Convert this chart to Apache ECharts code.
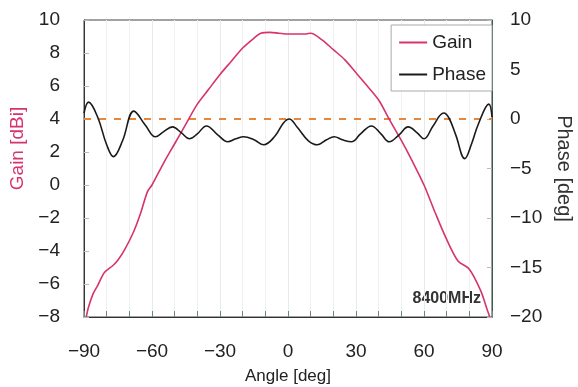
<!DOCTYPE html>
<html>
<head>
<meta charset="utf-8">
<script src="https://cdn.jsdelivr.net/npm/echarts@6/dist/echarts.min.js"></script>
<style>
  html, body { margin: 0; padding: 0; background: #fff; }
  #chart { width: 578px; height: 387px; }
</style>
</head>
<body>
<div id="chart"></div>
<script>
// gain pattern (left axis, dBi)
var gainAngle = [-89, -88, -86, -84, -81, -77, -75, -72, -68, -65, -62, -60, -55, -50, -45, -40, -35, -30, -25, -20, -15, -12, -8, -4, 0, 4, 8, 10, 15, 20, 25, 30, 35, 40, 45, 50, 55, 60, 65, 70, 75, 80, 85, 88, 89];
var gainValue = [-8, -7.4, -6.6, -6.1, -5.3, -4.85, -4.55, -3.9, -2.8, -1.7, -0.4, 0.0, 1.3, 2.5, 3.7, 4.9, 5.8, 6.7, 7.5, 8.3, 8.9, 9.2, 9.25, 9.2, 9.15, 9.15, 9.15, 9.2, 8.8, 8.2, 7.6, 6.8, 6.0, 5.15, 3.9, 2.7, 1.4, 0.0, -1.7, -3.3, -4.6, -5.1, -6.4, -7.6, -8];

// phase pattern (right axis, deg)
var phaseAngle = [-90, -88, -84, -80, -77, -73, -68, -63, -58.5, -55, -51, -47, -43.5, -40, -36, -31, -26.6, -23, -19.5, -15, -10.7, -6, -2, 0.5, 4, 9, 13, 17, 20.4, 24, 28, 32, 36.8, 41, 44.7, 49, 53, 57, 60, 64, 68.7, 71, 74, 78, 81, 84, 88.6, 90];
var phaseValue = [0.6, 1.7, 0.2, -2.6, -3.8, -2.2, 0.8, -0.6, -1.8, -1.3, -0.8, -1.4, -2.0, -1.5, -0.7, -1.6, -2.3, -2.0, -1.8, -2.1, -2.6, -1.8, -0.4, 0, -0.8, -2.2, -2.6, -2.1, -1.8, -2.1, -2.3, -1.5, -0.7, -1.5, -2.3, -1.6, -0.8, -1.4, -2.0, -0.7, 0.6, 0.1, -1.6, -4.0, -2.5, -0.5, 1.5, 0.2];

// dashed reference line
var refAngle = [-90, 90];
var refValue = [0, 0];

function pairs(xs, ys) {
  return xs.map(function (x, i) { return [x, ys[i]]; });
}
function minus(v) {
  return String(v).replace('-', '\u2212');
}

var chart = echarts.init(document.getElementById('chart'));
var font = 'Liberation Sans, Arial, sans-serif';

var option = {
  backgroundColor: '#fff',
  animation: false,
  textStyle: { fontFamily: font },
  grid: {
    left: 84, right: 86, top: 20, bottom: 70,
    outerBoundsMode: 'none',
    show: true, borderColor: '#444', borderWidth: 1
  },
  legend: {
    data: ['Gain', 'Phase'],
    orient: 'vertical',
    right: 86, top: 25,
    backgroundColor: '#fff',
    borderColor: '#aaa', borderWidth: 1,
    padding: [8, 6, 7, 8],
    itemGap: 13,
    icon: 'rect',
    itemWidth: 28, itemHeight: 2,
    textStyle: { fontSize: 19, color: '#222', fontFamily: font }
  },
  xAxis: {
    type: 'value',
    min: -90, max: 90, interval: 30,
    name: 'Angle [deg]', nameLocation: 'middle', nameGap: 51,
    nameTextStyle: { fontSize: 17, color: '#222' },
    axisLine: { onZero: false, lineStyle: { color: '#333' } },
    axisTick: { show: true, inside: true, length: 6, lineStyle: { color: '#6a8a80' } },
    minorTick: { show: true, splitNumber: 3, length: 6, lineStyle: { color: '#6a8a80' } },
    axisLabel: { fontSize: 19, color: '#222', margin: 25, formatter: minus },
    splitLine: { show: true, lineStyle: { color: '#e6ebe8' } },
    minorSplitLine: { show: true, lineStyle: { color: '#eef1ef' } }
  },
  yAxis: [
    {
      type: 'value',
      min: -8, max: 10, interval: 2,
      name: 'Gain [dBi]', nameLocation: 'middle', nameGap: 52, nameRotate: 90,
      nameTextStyle: { fontSize: 19, color: '#d6336f', padding: [0, 0, 0, 40] },
      axisLine: { show: true, onZero: false, lineStyle: { color: '#333' } },
      axisTick: { show: true, inside: true, length: 5, lineStyle: { color: '#bbb' } },
      axisLabel: { fontSize: 19, color: '#222', margin: 24, formatter: minus },
      splitLine: { show: false }
    },
    {
      type: 'value',
      min: -20, max: 10, interval: 5,
      name: 'Phase [deg]', nameLocation: 'middle', nameGap: 62, nameRotate: -90,
      nameTextStyle: { fontSize: 20, color: '#333' },
      axisLine: { show: true, onZero: false, lineStyle: { color: '#3a5a4a' } },
      axisTick: { show: true, inside: true, length: 5, lineStyle: { color: '#bbb' } },
      axisLabel: { fontSize: 19, color: '#222', margin: 18, formatter: minus },
      splitLine: { show: false }
    }
  ],
  graphic: [{
    type: 'text',
    right: 97, bottom: 80,
    style: { text: '8400MHz', font: 'bold 16px ' + font, fill: '#333' }
  }],
  series: [
    {
      name: 'Gain', type: 'line', yAxisIndex: 0,
      data: pairs(gainAngle, gainValue),
      symbol: 'none', smooth: 0.3,
      lineStyle: { color: '#d6336f', width: 1.6 },
      itemStyle: { color: '#d6336f' }
    },
    {
      name: 'Phase', type: 'line', yAxisIndex: 1,
      data: pairs(phaseAngle, phaseValue),
      symbol: 'none', smooth: 0.4,
      lineStyle: { color: '#1a1a1a', width: 1.6 },
      itemStyle: { color: '#1a1a1a' }
    },
    {
      name: 'ref', type: 'line', yAxisIndex: 1,
      data: pairs(refAngle, refValue),
      symbol: 'none', z: 1,
      lineStyle: { color: '#e8873a', width: 2, type: [7, 8] }
    }
  ]
};

chart.setOption(option);
</script>
</body>
</html>
